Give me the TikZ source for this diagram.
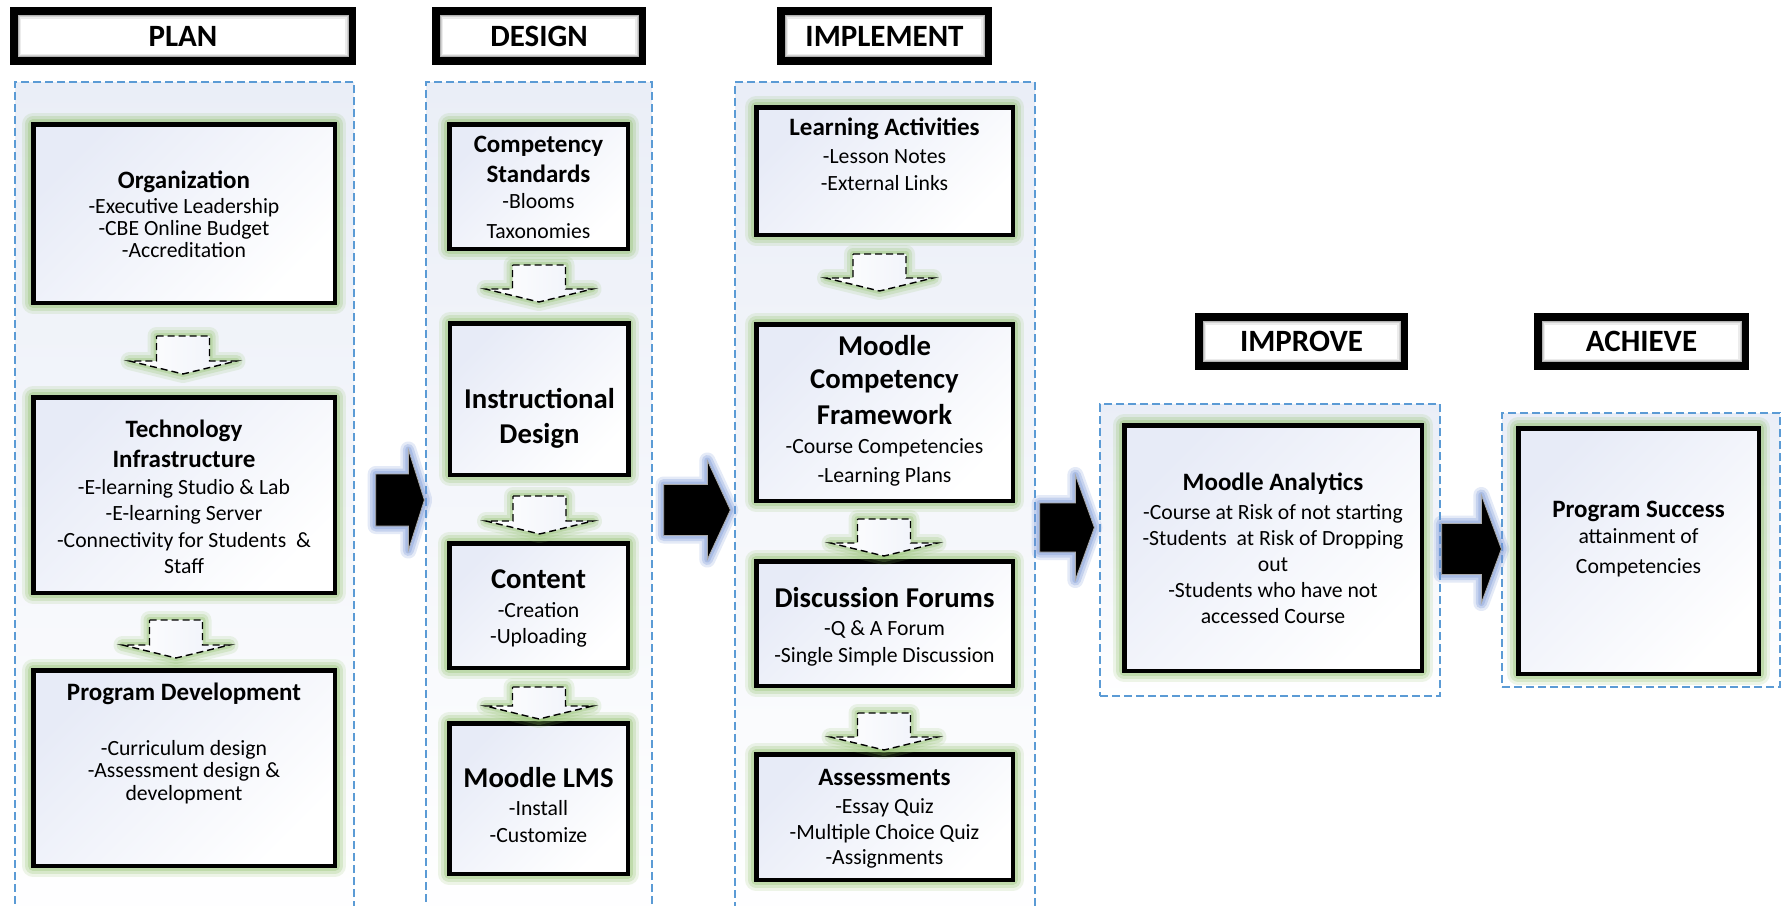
\documentclass[tikz,border=0pt]{standalone}
\usepackage{fontspec}
\setmainfont{Carlito}
\usetikzlibrary{calc}
\definecolor{dashblue}{RGB}{91,155,213}
\definecolor{contc}{RGB}{234,238,247}
\definecolor{boxtop}{RGB}{231,235,247}
\definecolor{glowg}{RGB}{140,190,100}
\definecolor{glowb}{RGB}{120,150,215}
\definecolor{arredge}{RGB}{170,170,170}
\definecolor{arrfill}{RGB}{238,241,249}
\newcommand\mytitle[1]{{\fontsize{25}{25}\selectfont\bfseries #1}}
\newcommand\mybigtitle[1]{{\fontsize{28.7}{28.7}\selectfont\bfseries #1}}
\tikzset{
  boxglow/.style={
    preaction={draw=glowg, solid, line join=round, line width=22pt, draw opacity=0.15},
    preaction={draw=glowg, solid, line join=round, line width=16pt, draw opacity=0.22},
    preaction={draw=glowg, solid, line join=round, line width=10pt, draw opacity=0.30}},
  box/.style={boxglow, draw=black, line width=4.5pt, top color=boxtop, bottom color=white,
    shading angle=45, inner sep=0pt},
  cont/.style={draw=dashblue, line width=1.3pt, dash pattern=on 8pt off 4pt,
    top color=contc, bottom color=white, inner sep=0pt},
  hdr/.style={fill=black, inner sep=0pt, text height=20pt, text depth=0pt,
    font=\fontsize{31}{31}\selectfont\bfseries,
    path picture={
      \fill[gray!60] ([shift={(7.5pt,-8pt)}]path picture bounding box.north west) rectangle ([shift={(-7.5pt,8pt)}]path picture bounding box.south east);
      \fill[gray!35] ([shift={(8.5pt,-9pt)}]path picture bounding box.north west) rectangle ([shift={(-8.5pt,9pt)}]path picture bounding box.south east);
      \fill[gray!15] ([shift={(9.5pt,-10pt)}]path picture bounding box.north west) rectangle ([shift={(-9.5pt,10pt)}]path picture bounding box.south east);
      \fill[white] ([shift={(11pt,-11.5pt)}]path picture bounding box.north west) rectangle ([shift={(-11pt,11.5pt)}]path picture bounding box.south east);
    }},
  dnarrow/.style={
    preaction={draw=glowg, solid, line join=round, line width=18pt, draw opacity=0.15},
    preaction={draw=glowg, solid, line join=round, line width=12pt, draw opacity=0.22},
    preaction={draw=glowg, solid, line join=round, line width=6pt, draw opacity=0.30},
    draw=black, line width=1.4pt, dash pattern=on 7pt off 4pt, left color=white, right color=arrfill},
  rarrow/.style={
    preaction={draw=glowb, solid, line join=round, line width=16pt, draw opacity=0.20},
    preaction={draw=glowb, solid, line join=round, line width=11pt, draw opacity=0.28},
    preaction={draw=glowb, solid, line join=round, line width=6pt, draw opacity=0.35},
    fill=black, draw=arredge, line width=0.8pt},
  txt/.style={align=center, inner sep=0pt, anchor=base,
    font={\fontsize{21.7}{#1}\selectfont\lineskiplimit=-100pt}},
}
% dashed down arrow: source, target, dx, offset below source, offset above target
\newcommand\dnarr[5]{%
  \path[dnarrow] let \p1=($(#1.south)+(#3,#4)$), \p2=($(#2.north)+(#3,-#5)$) in
    (\x1-26.5pt,\y1) -- (\x1+26.5pt,\y1) -- (\x1+26.5pt,\y2+13pt) -- (\x1+53.5pt,\y2+13pt)
    -- (\x1,\y2) -- (\x1-53.5pt,\y2+13pt) -- (\x1-26.5pt,\y2+13pt) -- cycle;}
% black right arrow: source, target, dx source, dx target, y mid, shaft half, head half, head length
\newcommand\rarr[8]{%
  \path[rarrow] let \p1=($(#1.east)+(#3,0)$), \p2=($(#2.west)+(#4,0)$), \p3=(0,#5) in
    (\x1,\y3+#6pt) -- (\x2-#8pt,\y3+#6pt) -- (\x2-#8pt,\y3+#7pt) -- (\x2,\y3)
    -- (\x2-#8pt,\y3-#7pt) -- (\x2-#8pt,\y3-#6pt) -- (\x1,\y3-#6pt) -- cycle;}
\begin{document}
\begin{tikzpicture}[x=1pt,y=-1pt]
\useasboundingbox (0,0) rectangle (1784,905);
\fill[white] (0,0) rectangle (1784,905);

% containers
\node[cont, minimum width=339pt, minimum height=848pt] (planC) at (184.5,506) {};
\node[cont, minimum width=226pt, minimum height=848pt] (designC) at (539,506) {};
\node[cont, minimum width=300pt, minimum height=848pt] (implC) at (885,506) {};
\node[cont, minimum width=340pt, minimum height=292pt] (improveC) at (1270,550) {};
\node[cont, minimum width=278pt, minimum height=274pt] (achieveC) at (1641,550) {};

% headers
\node[hdr, minimum width=346pt, minimum height=58pt] (planH) at (183,36) {PLAN};
\node[hdr, minimum width=214pt, minimum height=58pt] (designH) at (539,36) {DESIGN};
\node[hdr, minimum width=215pt, minimum height=58pt] (implH) at (884.5,36) {IMPLEMENT};
\node[hdr, minimum width=213pt, minimum height=57pt] (improveH) at (1301.5,341.5) {IMPROVE};
\node[hdr, minimum width=215pt, minimum height=57pt] (achieveH) at (1641.5,341.5) {ACHIEVE};

% boxes
\node[box, minimum width=301.5pt, minimum height=178.5pt] (org) at (184,213.5) {};
\node[box, minimum width=301.5pt, minimum height=195.5pt] (tech) at (184,495) {};
\node[box, minimum width=301.5pt, minimum height=195.5pt] (pd) at (184,768) {};
\node[box, minimum width=178.5pt, minimum height=124.5pt] (cs) at (538.5,186.5) {};
\node[box, minimum width=178.5pt, minimum height=151.5pt] (id) at (539,399) {};
\node[box, minimum width=178.5pt, minimum height=124.5pt] (cont) at (538.5,605.5) {};
\node[box, minimum width=178.5pt, minimum height=150.5pt] (lms) at (538.5,798.5) {};
\node[box, minimum width=256.5pt, minimum height=127.5pt] (la) at (884.5,171) {};
\node[box, minimum width=256.5pt, minimum height=176.5pt] (mcf) at (884.5,412.5) {};
\node[box, minimum width=256.5pt, minimum height=124.5pt] (df) at (884.5,623.5) {};
\node[box, minimum width=256.5pt, minimum height=125.5pt] (as) at (884.5,817) {};
\node[box, minimum width=297.5pt, minimum height=245.5pt] (ma) at (1273,548) {};
\node[box, minimum width=240.5pt, minimum height=245.5pt] (ps) at (1638.5,551) {};

% dashed down arrows
\dnarr{org}{tech}{-1}{31}{21}
\dnarr{tech}{pd}{-8}{25}{10}
\dnarr{cs}{id}{0.5}{14}{19}
\dnarr{id}{cont}{0.5}{19}{7}
\dnarr{cont}{lms}{0.5}{17}{2}
\dnarr{la}{mcf}{-5}{17}{31}
\dnarr{mcf}{df}{-0.5}{16}{3}
\dnarr{df}{as}{-0.5}{25}{2}

% black right arrows
\rarr{planC}{designC}{21}{-1}{500}{26}{50.5}{16}
\rarr{designC}{implC}{11}{-4}{510}{25.5}{49.5}{23}
\rarr{implC}{improveC}{4}{-5}{527.5}{24.5}{52.5}{19}
\rarr{improveC}{achieveC}{1}{0}{549}{25.5}{54}{20}

% texts (anchored at the baseline of their last line)
\node[txt=22] (orgT) at (184,257) {\mytitle{Organization}\\[3pt]-Executive Leadership\\-CBE Online Budget\\-Accreditation};
\node[txt=26.5] (techT) at (184,573.5) {\mytitle{Technology}\\[3.5pt]\mytitle{Infrastructure}\\[0.5pt]-E-learning Studio \& Lab\\-E-learning Server\\-Connectivity for Students~ \&\\Staff};
\node[txt=22.5] (pdT) at (184,800) {\mytitle{Program Development}\\[32.5pt]-Curriculum design\\-Assessment design \&\\development};
\node[txt=28] (csT) at (538.5,238) {\mytitle{Competency}\\[2pt]\mytitle{Standards}\\[-2pt]-Blooms\\[2pt]Taxonomies};
\node[txt=35] (idT) at (539.5,443) {\mybigtitle{Instructional}\\\mybigtitle{Design}};
\node[txt=26] (contT) at (538.5,643) {\mybigtitle{Content}\\[3pt]-Creation\\-Uploading};
\node[txt=27] (lmsT) at (538.5,842) {\mybigtitle{Moodle LMS}\\[1pt]-Install\\-Customize};
\node[txt=27] (laT) at (884.5,190) {\mytitle{Learning Activities}\\[1pt]-Lesson Notes\\-External Links};
\node[txt=29] (mcfT) at (884.5,482) {\mybigtitle{Moodle}\\[4pt]\mybigtitle{Competency}\\[7pt]\mybigtitle{Framework}\\-Course Competencies\\-Learning Plans};
\node[txt=27] (dfT) at (884.5,662) {\mybigtitle{Discussion Forums}\\[1pt]-Q \& A Forum\\-Single Simple Discussion};
\node[txt=26.5] (asT) at (884.5,864.5) {\mytitle{Assessments}\\[1.5pt]-Essay Quiz\\-Multiple Choice Quiz\\[-1.5pt]-Assignments};
\node[txt=25.8] (maT) at (1273,623) {\mytitle{Moodle Analytics}\\[4pt]-Course at Risk of not starting\\-Students~ at Risk of Dropping\\out\\-Students who have not\\accessed Course};
\node[txt=30] (psT) at (1638.5,573) {\mytitle{Program Success}\\[-4pt]attainment of\\Competencies};
\end{tikzpicture}
\end{document}
